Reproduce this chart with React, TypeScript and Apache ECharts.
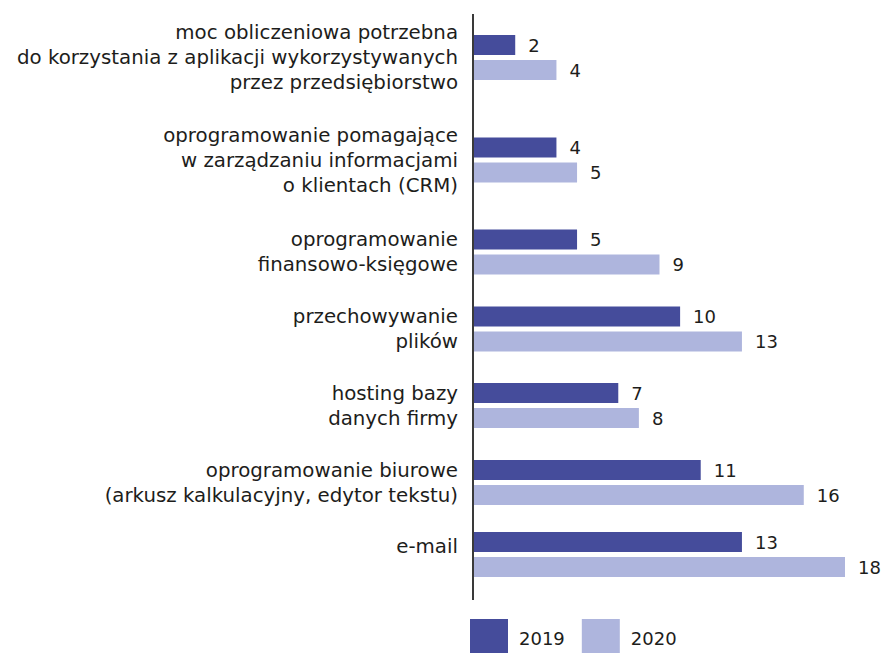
import React, { useEffect, useRef } from "react";
import * as echarts from "echarts";

const categories = [
  "moc obliczeniowa potrzebna\ndo korzystania z aplikacji wykorzystywanych\nprzez przedsiębiorstwo",
  "oprogramowanie pomagające\nw zarządzaniu informacjami\no klientach (CRM)",
  "oprogramowanie\nfinansowo-księgowe",
  "przechowywanie\nplików",
  "hosting bazy\ndanych firmy",
  "oprogramowanie biurowe\n(arkusz kalkulacyjny, edytor tekstu)",
  "e-mail",
];
const values2019 = [2, 4, 5, 10, 7, 11, 13];
const values2020 = [4, 5, 9, 13, 8, 16, 18];
const seriesNames = ["2019", "2020"];
const axisMax = 18;

// layout only
const rowCenters = [57.5, 160, 252, 329, 405.5, 482.5, 554.5];
const COLORS = ["#454c9b", "#aeb5dd"];
const FONT = "DejaVu Sans";
const TEXT = "#1d1d1b";

export default function App() {
  const ref = useRef<HTMLDivElement>(null);
  useEffect(() => {
    if (!ref.current) return;
    const chart = echarts.init(ref.current, null, { renderer: "svg" });
    const grids: any[] = [];
    const xAxes: any[] = [];
    const yAxes: any[] = [];
    const series: any[] = [];
    categories.forEach((cat, i) => {
      const single = cat.indexOf("\n") < 0;
      grids.push({ left: 474, right: 36, top: rowCenters[i] - 22.5, height: 45 });
      xAxes.push({
        type: "value",
        gridIndex: i,
        min: 0,
        max: axisMax,
        show: false,
      });
      yAxes.push({
        type: "category",
        gridIndex: i,
        data: [cat],
        axisLine: { show: false },
        axisTick: { show: false },
        axisLabel: {
          margin: 16,
          fontFamily: FONT,
          fontSize: 19.8,
          lineHeight: single ? 16 : 25,
          verticalAlign: single ? "bottom" : "middle",
          color: TEXT,
          align: "right",
        },
      });
      [values2019, values2020].forEach((vals, s) => {
        series.push({
          type: "bar",
          name: seriesNames[s],
          xAxisIndex: i,
          yAxisIndex: i,
          data: [vals[i]],
          barWidth: 20,
          barGap: "25%",
          itemStyle: { color: COLORS[s] },
          label: {
            show: true,
            position: "right",
            distance: 13,
            fontFamily: FONT,
            fontSize: 18,
            color: TEXT,
          },
        });
      });
    });
    chart.setOption({
      animation: false,
      backgroundColor: "#ffffff",
      grid: grids,
      xAxis: xAxes,
      yAxis: yAxes,
      series,
      legend: {
        data: seriesNames,
        left: 470,
        top: 619,
        padding: 0,
        itemWidth: 38,
        itemHeight: 38,
        itemGap: 17,
        icon: "rect",
        selectedMode: false,
        textStyle: {
          fontFamily: FONT,
          fontSize: 18,
          color: TEXT,
          padding: [0, 0, 0, 6],
        },
      },
      graphic: [
        {
          type: "line",
          shape: { x1: 473, y1: 14, x2: 473, y2: 600 },
          style: { stroke: "#3a3a3a", lineWidth: 2 },
          z: 10,
        },
      ],
    });
    return () => chart.dispose();
  }, []);
  return (
    <div
      ref={ref}
      style={{ position: "fixed", left: 0, top: 0, width: 881, height: 653 }}
    />
  );
}
